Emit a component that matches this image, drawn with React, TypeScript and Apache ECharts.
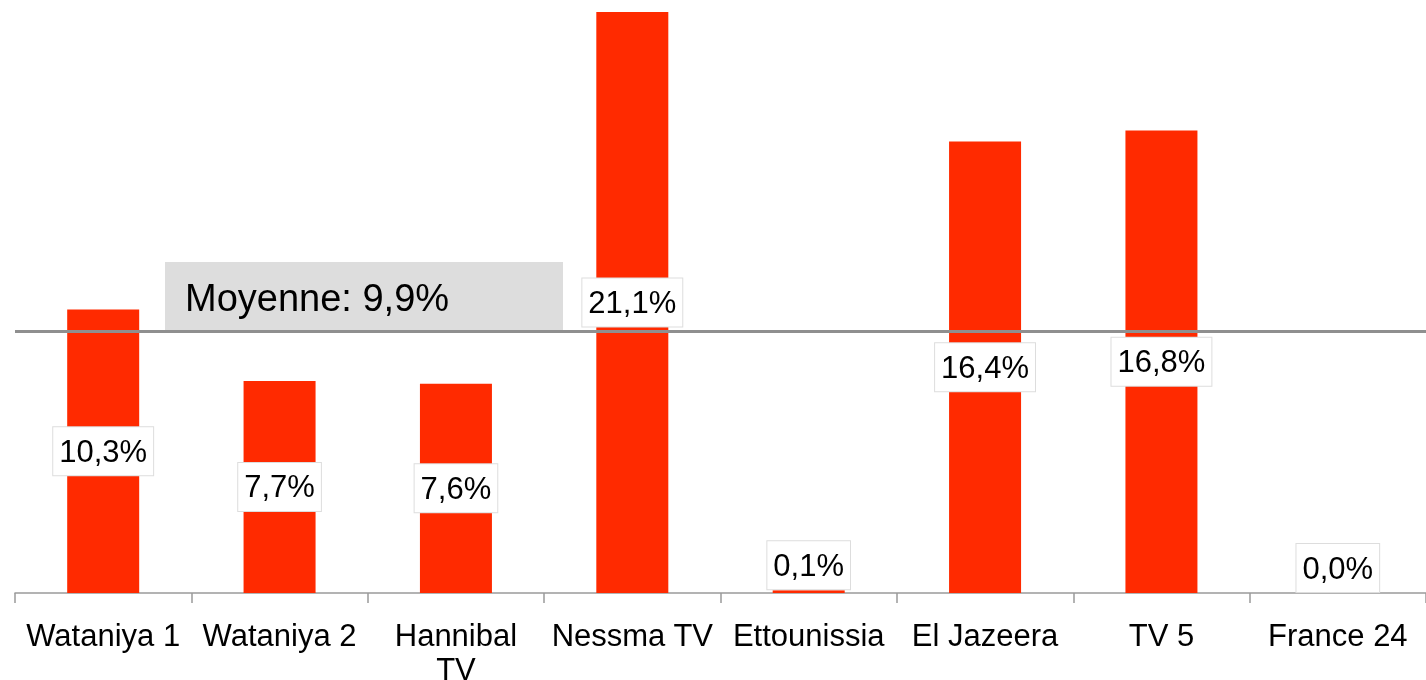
import React, { useEffect, useRef } from "react";
import * as echarts from "echarts";

const categories = ["Wataniya 1", "Wataniya 2", "Hannibal\nTV", "Nessma TV", "Ettounissia", "El Jazeera", "TV 5", "France 24"];
const values = [10.3, 7.7, 7.6, 21.1, 0.1, 16.4, 16.8, 0.0];
const meanLabel = "Moyenne: 9,9%";
const meanLinePosition = 9.5;

const FONT = "'Liberation Sans', Arial, sans-serif";

export default function App() {
  const ref = useRef<HTMLDivElement>(null);
  useEffect(() => {
    if (!ref.current) return;
    const chart = echarts.init(ref.current, undefined, { renderer: "svg" });
    const data = values.map((v) => {
      const small = v < 2;
      return {
        value: v,
        label: {
          position: small ? "top" : "inside",
          distance: small ? 1 : 0,
        },
      };
    });
    chart.setOption({
      animation: false,
      grid: { left: 15, right: 0, top: 12, bottom: 87, outerBoundsMode: "none", containLabel: false },
      xAxis: {
        type: "category",
        data: categories,
        axisLine: { lineStyle: { color: "#9a9a9a", width: 1.5 } },
        axisTick: { show: true, length: 10, lineStyle: { color: "#9a9a9a", width: 1.5 } },
        axisLabel: {
          color: "#000",
          fontFamily: FONT,
          fontSize: 31,
          lineHeight: 34,
          margin: 25,
          interval: 0,
        },
      },
      yAxis: {
        type: "value",
        min: 0,
        max: 21.1,
        show: false,
        splitLine: { show: false },
      },
      graphic: [
        {
          type: "group",
          left: 165,
          top: 262,
          z: 1,
          children: [
            { type: "rect", shape: { x: 0, y: 0, width: 398, height: 68 }, style: { fill: "#dddddd" } },
            {
              type: "text",
              x: 20,
              y: 36,
              style: {
                text: meanLabel,
                font: `38px ${FONT}`,
                fill: "#000",
                verticalAlign: "middle",
              },
            },
          ],
        },
      ],
      series: [
        {
          type: "bar",
          data,
          barWidth: 72,
          z: 2,
          itemStyle: { color: "#ff2a00" },
          label: {
            show: true,
            formatter: (p: any) => p.value.toFixed(1).replace(".", ",") + "%",
            color: "#000",
            fontFamily: FONT,
            fontSize: 31,
            backgroundColor: "#fff",
            borderColor: "#dddddd",
            borderWidth: 1,
            padding: [9, 6, 8, 6],
          },
          markLine: {
            silent: true,
            symbol: "none",
            label: { show: false },
            lineStyle: { color: "#8f8f8f", width: 3, type: "solid" },
            data: [{ yAxis: meanLinePosition }],
            z: 3,
          },
        },
      ],
    });
    return () => chart.dispose();
  }, []);
  return <div ref={ref} style={{ position: "fixed", left: 0, top: 0, width: 1426, height: 680 }} />;
}
